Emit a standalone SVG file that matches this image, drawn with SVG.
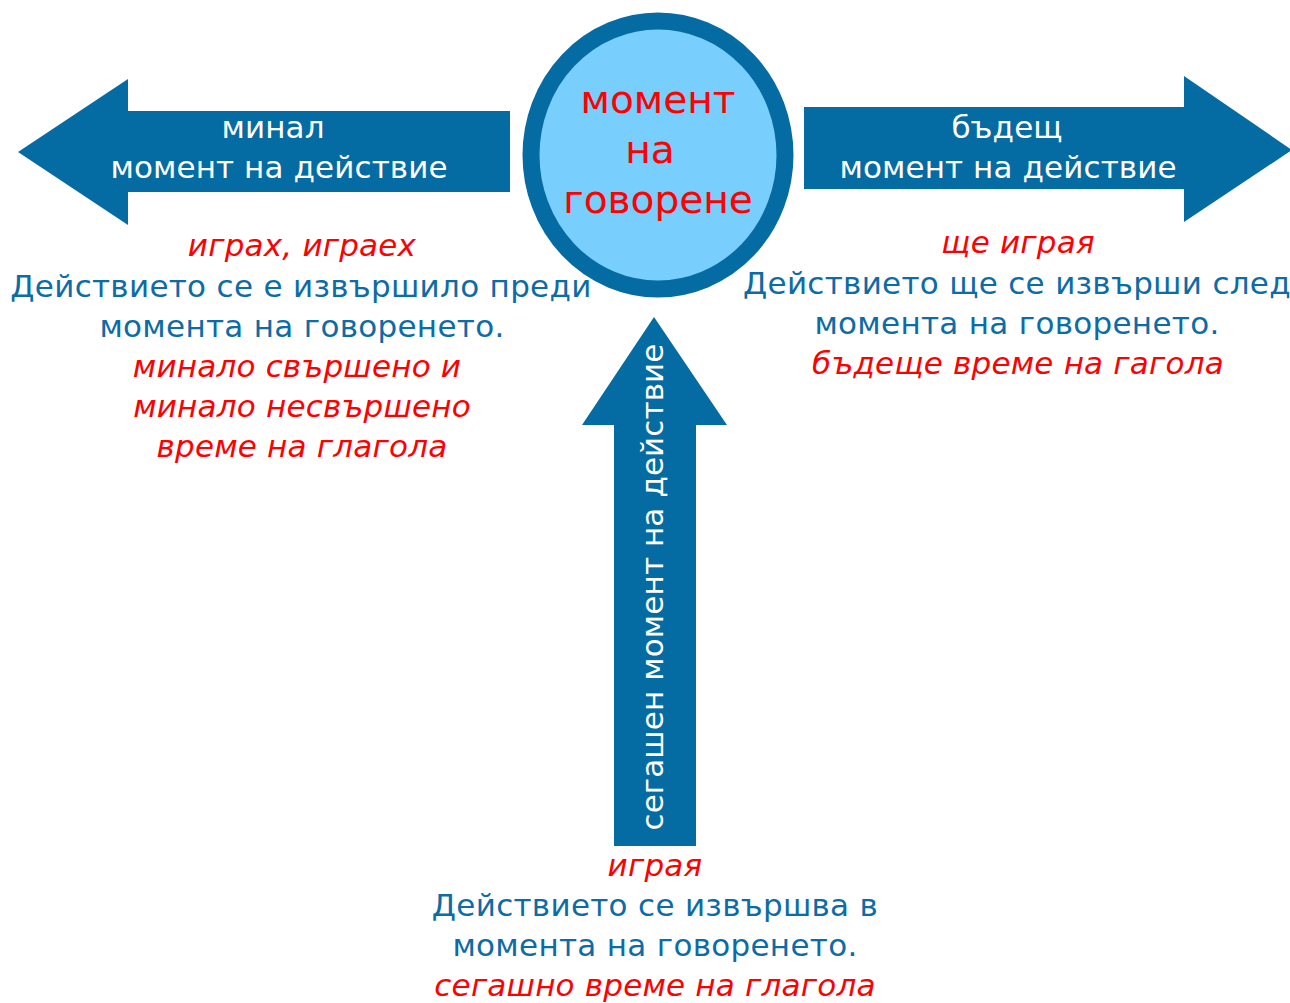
<svg xmlns="http://www.w3.org/2000/svg" width="1290" height="1003" viewBox="0 0 1290 1003">
<style>
text{font-family:"DejaVu Sans","Noto Sans",sans-serif;text-anchor:middle}
.arrow{fill:#056ba3}
.wt{fill:#ffffff;font-size:31px;letter-spacing:0.1px}
.bl{fill:#0d6ba6;font-size:31px;letter-spacing:0.3px}
.rd{fill:#ff0000;font-size:31px;font-style:italic;letter-spacing:0.2px}
.ct{fill:#ff0000;font-size:39px}
</style>
<rect width="1290" height="1003" fill="#ffffff"/>
<g id="connectors">
<path id="past-arrow" class="arrow" d="M18,152 L128,79 L128,111 L510,111 L510,192 L128,192 L128,225 Z"/>
<path id="future-arrow" class="arrow" d="M804,107 L1184,107 L1184,76 L1292,150 L1184,222 L1184,189 L804,189 Z"/>
<path id="present-arrow" class="arrow" d="M654,317 L727,425 L696,425 L696,846 L614,846 L614,425 L582,425 Z"/>
</g>
<g id="past-label">
<text class="wt" x="273" y="138">минал</text>
<text class="wt" x="279" y="178">момент на действие</text>
</g>
<g id="future-label">
<text class="wt" x="1007" y="138">бъдещ</text>
<text class="wt" x="1008" y="178">момент на действие</text>
</g>
<g id="present-label">
<text class="wt" transform="translate(663,587) rotate(-90)" x="0" y="0">сегашен момент на действие</text>
</g>
<g id="moment">
<ellipse cx="658" cy="155" rx="127" ry="134" fill="#78cefc" stroke="#056ba3" stroke-width="17"/>
<text class="ct" x="658" y="113">момент</text>
<text class="ct" x="650" y="163">на</text>
<text class="ct" x="658" y="213">говорене</text>
</g>
<g id="past-text">
<text class="rd" x="302" y="256">играх, играех</text>
<text class="bl" x="301" y="297">Действието се е извършило преди</text>
<text class="bl" x="302" y="337">момента на говоренето.</text>
<text class="rd" x="297" y="377">минало свършено и</text>
<text class="rd" x="302" y="417">минало несвършено</text>
<text class="rd" x="302" y="457">време на глагола</text>
</g>
<g id="future-text">
<text class="rd" x="1018" y="253">ще играя</text>
<text class="bl" x="1017" y="294">Действието ще се извърши след</text>
<text class="bl" x="1017" y="334">момента на говоренето.</text>
<text class="rd" x="1018" y="374">бъдеще време на гагола</text>
</g>
<g id="present-text">
<text class="rd" x="655" y="876">играя</text>
<text class="bl" x="655" y="916">Действието се извършва в</text>
<text class="bl" x="655" y="956">момента на говоренето.</text>
<text class="rd" x="655" y="996">сегашно време на глагола</text>
</g>
</svg>
